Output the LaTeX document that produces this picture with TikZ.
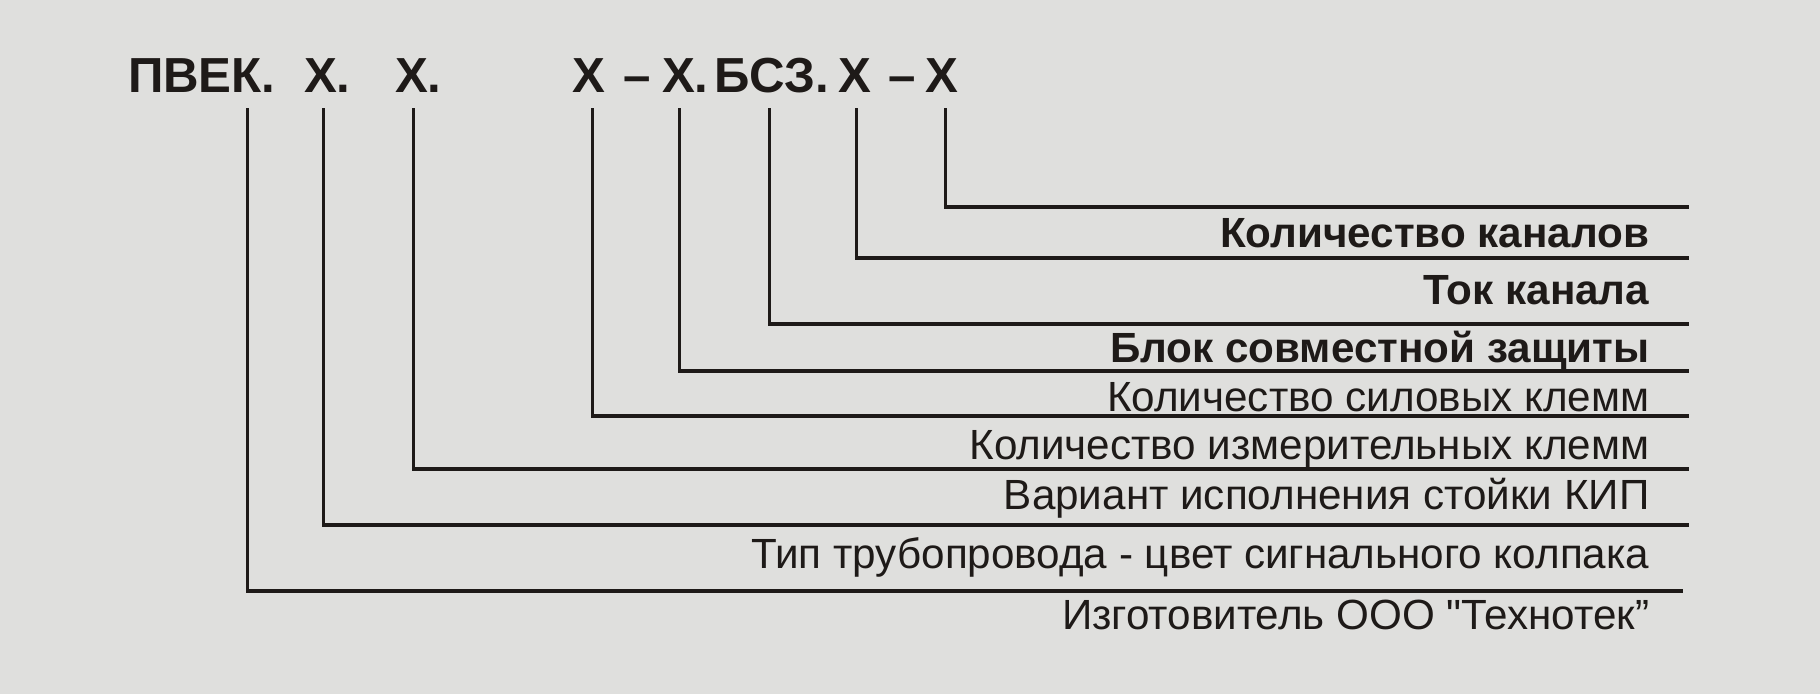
\documentclass[tikz,border=0pt]{standalone}
\usepackage{fontspec}
\setmainfont{Liberation Sans}[Ligatures=TeXOff]
\usetikzlibrary{positioning}
\definecolor{panelgrey}{HTML}{DFDFDD}
\definecolor{inkblack}{HTML}{1E1A18}

\begin{document}
\begin{tikzpicture}[x=0.01cm, y=-0.01cm,
  code/.style={inner sep=0pt, outer sep=0pt, text=inkblack,
               font=\fontsize{14}{16}\selectfont\bfseries},
  lbl/.style={inner sep=0pt, anchor=base east, text=inkblack,
              font=\fontsize{12}{14}\selectfont},
  lblbold/.style={lbl, font=\fontsize{12}{14}\selectfont\bfseries},
  lead/.style={draw=inkblack, line width=0.9pt},
  node distance=0pt
]
  %% Background
  \fill[panelgrey] (0,0) rectangle (1820,694);

  %% Code string
  \node[code, anchor=base west] (pve) at (128,93) {ПВЕ};
  \node[code, base right=of pve] (kk) {К};
  \node[code, base right=of kk] (d0) {.};
  \node[code, anchor=base west] (x1) at (304,93) {Х};
  \node[code, base right=of x1] (d1) {.};
  \node[code, anchor=base west] (x2) at (395,93) {Х};
  \node[code, base right=of x2] (d2) {.};
  \node[code, anchor=base west] (x3) at (572,93) {Х};
  \node[code, anchor=base west] (m1) at (623,93) {–};
  \node[code, anchor=base west] (x4) at (662,93) {Х};
  \node[code, base right=of x4] (d4) {.};
  \node[code, anchor=base west] (bb) at (714,93) {Б};
  \node[code, base right=of bb] (cc) {С};
  \node[code, base right=of cc] (zz) {З.};
  \node[code, anchor=base west] (x5) at (838,93) {Х};
  \node[code, anchor=base west] (m2) at (888,93) {–};
  \node[code, anchor=base west] (x6) at (925,93) {Х};

  %% Line ends
  \coordinate (e6) at (1689,207);
  \coordinate (e5) at (1689,258);
  \coordinate (e4) at (1689,324);
  \coordinate (e3) at (1689,371);
  \coordinate (e2) at (1689,416);
  \coordinate (e1) at (1689,469);
  \coordinate (e0) at (1689,525);
  \coordinate (ek) at (1683,591);

  %% Leaders
  \draw[lead] (x6.south) ++(4,15) |- (e6);
  \draw[lead] (x5.south) ++(2,15) |- (e5);
  \draw[lead] (cc.south) ++(2,15) |- (e4);
  \draw[lead] (x4.south) ++(1,15) |- (e3);
  \draw[lead] (x3.south) ++(4,15) |- (e2);
  \draw[lead] (x2.south) ++(2,15) |- (e1);
  \draw[lead] (x1.south) ++(3,15) |- (e0);
  \draw[lead] (kk.south) ++(1,15) |- (ek);

  %% Labels
  \node[lblbold] (l6) at (1650,247) {Количество каналов};
  \node[lblbold] (l5) at (1650,304) {Ток канала};
  \node[lblbold] (l4) at (1650,362) {Блок совместной защиты};
  \node[lbl] (l3) at (1650,411) {Количество силовых клемм};
  \node[lbl] (l2) at (1650,459) {Количество измерительных клемм};
  \node[lbl] (l1) at (1650,509) {Вариант исполнения стойки КИП};
  \node[lbl] (l0) at (1650,568) {Тип трубопровода - цвет сигнального колпака};
  \node[lbl] (lk) at (1650,629) {Изготовитель ООО "Технотек”};
\end{tikzpicture}
\end{document}
